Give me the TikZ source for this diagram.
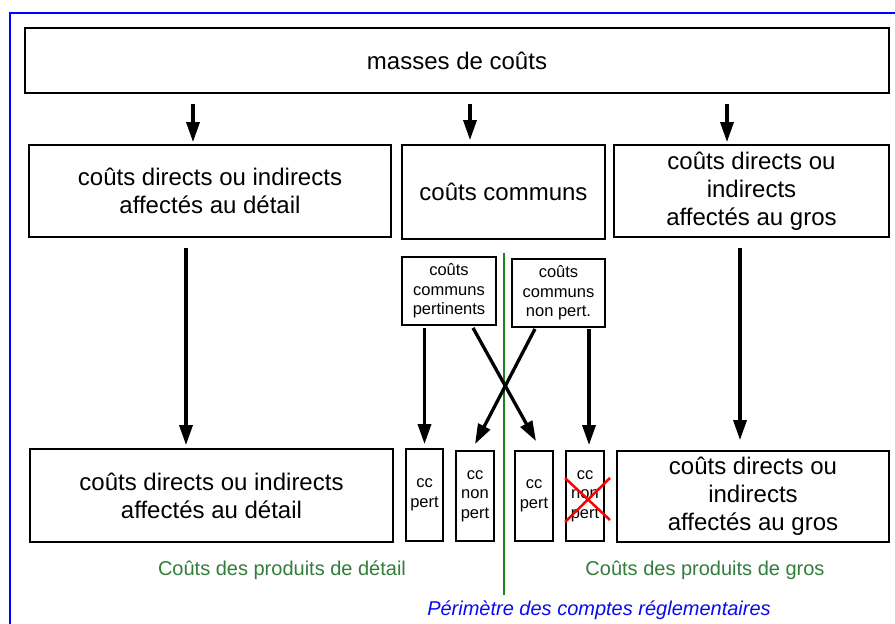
\documentclass[tikz,border=0pt]{standalone}
\usepackage{fontspec}
\setmainfont{Liberation Sans}
\usetikzlibrary{arrows.meta,calc}
\definecolor{txtgreen}{RGB}{51,125,60}
\definecolor{lngreen}{RGB}{30,130,30}
\definecolor{txtblue}{RGB}{10,10,240}
\begin{document}
\begin{tikzpicture}[x=1pt,y=-1pt,
  box/.style={draw,line width=1.8pt,rectangle,inner sep=0pt,align=center,font=\fontsize{24}{28}\selectfont},
  sbox/.style={draw,line width=1.8pt,rectangle,inner sep=0pt,align=center,font=\fontsize{16.5}{19.5}\selectfont},
  arr/.style={line width=3.3pt,-{Triangle[length=20pt,width=13pt]}},
  lbl/.style={font=\fontsize{20}{24}\selectfont,inner sep=0pt}]
\useasboundingbox (0,0) rectangle (895,624);
\fill[white] (0,0) rectangle (895,624);
\draw[blue,line width=2pt] (10,630) -- (10,13) -- (900,13);

\node[box,minimum width=864pt,minimum height=65pt] (top) at (457,60.5) {masses de coûts};

\node[box,minimum width=362pt,minimum height=92pt] (L2) at (210,191) {coûts directs ou indirects\\affectés au détail};
\node[box,minimum width=203pt,minimum height=94pt] (M2) at (503.5,192) {coûts communs};
\node[box,minimum width=275pt,minimum height=92pt] (R2) at (751.5,191) {coûts directs ou\\indirects\\affectés au gros};

\node[sbox,minimum width=94pt,minimum height=68pt] (SP) at (449,291) {coûts\\communs\\pertinents};
\node[sbox,minimum width=93pt,minimum height=68pt] (SN) at (558.5,293) {coûts\\communs\\non pert.};

\node[box,minimum width=363pt,minimum height=93pt] (L3) at (211.5,495.5) {coûts directs ou indirects\\affectés au détail};
\node[box,minimum width=272pt,minimum height=91pt] (R3) at (753,496.5) {coûts directs ou\\indirects\\affectés au gros};

\node[sbox,minimum width=37pt,minimum height=92pt] (c1) at (424.5,495) {cc\\pert};
\node[sbox,minimum width=38pt,minimum height=90pt] (c2) at (475,496) {cc\\non\\pert};
\node[sbox,minimum width=38pt,minimum height=90pt] (c3) at (534,496) {cc\\pert};
\node[sbox,minimum width=38pt,minimum height=90pt] (c4) at (585,496) {cc\\non\\pert};

% green separator
\coordinate (gtop) at (504,253);
\coordinate (gbot) at (504,595);
\draw[lngreen,line width=1.8pt] (gtop) -- (gbot);

% top arrows
\draw[arr] ($(top.south -| L2.north)+(-17,10)$) -- ($(L2.north)+(-17,-2)$);
\draw[arr] ($(top.south -| M2.north)+(-33.5,10)$) -- ($(M2.north)+(-33.5,-4)$);
\draw[arr] ($(top.south -| R2.north)+(-24.5,10)$) -- ($(R2.north)+(-24.5,-2)$);

% long arrows
\draw[arr] ($(L2.south)+(-24,10)$) -- ($(L3.north)+(-25.5,-3)$);
\draw[arr] ($(R2.south)+(-11.5,10)$) -- ($(R3.north)+(-13,-10)$);

% common cost arrows
\draw[arr] ($(SP.south -| c1.north)+(0,2)$) -- ($(c1.north)+(0,-4)$);
\draw[arr] ($(SP.south)+(24,2)$) -- ($(c3.north)+(2,-9)$);
\draw[arr] ($(SN.south)+(-23.5,1)$) -- ($(c2.north)+(0,-6)$);
\draw[arr] ($(SN.south)+(30.5,1)$) -- ($(c4.north)+(4,-5)$);

% red cross
\draw[red,line width=2.5pt] ($(c4)+(-20,-18)$) -- ($(c4)+(25,24)$)
  ($(c4)+(25,-18)$) -- ($(c4)+(-20,26)$);

% labels
\node[lbl,text=txtgreen] (gd) at (282,570) {Coûts des produits de détail};
\node[lbl,text=txtgreen] (gg) at (705,570) {Coûts des produits de gros};
\node[lbl,text=txtblue,font=\fontsize{20}{24}\selectfont\itshape] (per) at (599,610) {Périmètre des comptes réglementaires};
\end{tikzpicture}
\end{document}
